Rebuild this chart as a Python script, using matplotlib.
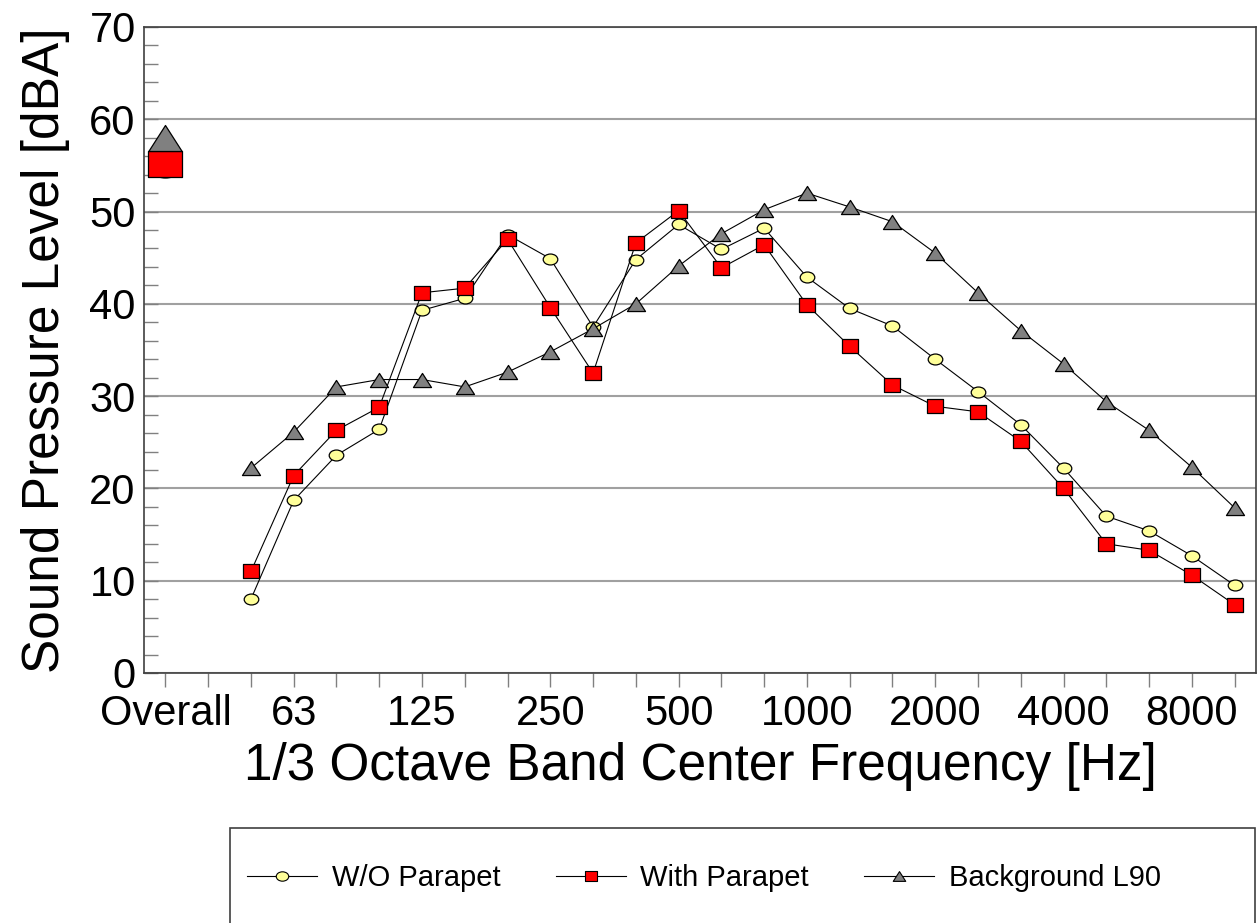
import matplotlib
matplotlib.use("Agg")
import matplotlib.pyplot as plt
import matplotlib.transforms as mtransforms
from matplotlib.path import Path
from matplotlib.lines import Line2D
from matplotlib.patches import Rectangle
from matplotlib.ticker import MultipleLocator

plt.rcParams['font.family'] = ['Liberation Sans', 'DejaVu Sans']

# 1/3 octave bands (Hz); "Overall" sits at position 0, bands start at position 2
bands = [50, 63, 80, 100, 125, 160, 200, 250, 315, 400, 500, 630, 800,
         1000, 1250, 1600, 2000, 2500, 3150, 4000, 5000, 6300, 8000, 10000]
tick_labels = ['Overall', '', '', '63', '', '', '125', '', '', '250', '', '',
               '500', '', '', '1000', '', '', '2000', '', '', '4000', '', '',
               '8000', '']

wo_parapet = [8.0, 18.7, 23.6, 26.4, 39.3, 40.6, 47.5, 44.9, 37.5, 44.8, 48.6, 45.9,
              48.2, 42.9, 39.5, 37.6, 34.0, 30.5, 26.9, 22.2, 17.0, 15.4, 12.7, 9.5]
with_parapet = [11.0, 21.4, 26.3, 28.8, 41.2, 41.7, 47.0, 39.6, 32.5, 46.6, 50.1, 43.9,
                46.4, 39.9, 35.4, 31.2, 28.9, 28.3, 25.1, 20.0, 14.0, 13.3, 10.6, 7.4]
background = [22.2, 26.1, 31.0, 31.8, 31.8, 31.0, 32.6, 34.8, 37.3, 40.0, 44.1, 47.6,
              50.2, 52.0, 50.5, 48.9, 45.5, 41.2, 37.1, 33.5, 29.4, 26.3, 22.3, 17.9]

overall_wo = 55.0
overall_with = 55.2
overall_bg = 58.0

# marker shapes (slightly wider than tall, like the original)
ellipse = Path.unit_circle().transformed(mtransforms.Affine2D().scale(1.0, 0.75))
rect = Path([(-1, -0.85), (1, -0.85), (1, 0.85), (-1, 0.85), (-1, -0.85)], closed=True)
rect_big = Path([(-1, -0.8), (1, -0.8), (1, 0.8), (-1, 0.8), (-1, -0.8)], closed=True)
tri = Path([(0, 0.78), (-1, -0.78), (1, -0.78), (0, 0.78)], closed=True)

x_bands = list(range(2, 2 + len(bands)))

fig = plt.figure(figsize=(12.57, 9.23), dpi=100)
ax = fig.add_axes([144 / 1257, 1 - 673 / 923, (1256 - 144) / 1257, (673 - 27) / 923])

series = [("W/O Parapet", wo_parapet, overall_wo, ellipse, ellipse, '#ffff99', 10.5),
          ("With Parapet", with_parapet, overall_with, rect, rect_big, '#ff0000', 11.5),
          ("Background L90", background, overall_bg, tri, tri, '#808080', 13)]

handles = []
for label, vals, ov, mk, mk_big, col, ms in series:
    ax.plot(x_bands, vals, '-', color='black', lw=0.8, marker=mk, ms=ms,
            mfc=col, mec='black', mew=0.9, zorder=3)
    ax.plot([0], [ov], linestyle='none', marker=mk_big, ms=24,
            mfc=col, mec='black', mew=0.9, zorder=3)
    handles.append(Line2D([], [], color='black', lw=0.8, marker=mk, ms=9,
                          mfc=col, mec='black', mew=0.8, label=label))

ax.set_xlim(-0.5, 25.5)
ax.set_ylim(0, 70)
ax.set_xticks(range(26))
ax.set_xticklabels(tick_labels)
ax.yaxis.set_major_locator(MultipleLocator(10))
ax.yaxis.set_minor_locator(MultipleLocator(2))
ax.grid(axis='y', which='major', color='#a0a0a0', lw=1.5, zorder=0)

ax.tick_params(axis='x', direction='out', length=10, width=1, color='#808080',
               labelsize=30, pad=5)
ax.tick_params(axis='y', which='both', direction='in', length=10, width=1,
               color='#808080', labelsize=30, pad=6)
for s in ax.spines.values():
    s.set_color('#404040')
    s.set_linewidth(1.2)

ax.set_xlabel('1/3 Octave Band Center Frequency [Hz]', fontsize=37, labelpad=6)
ax.set_ylabel('Sound Pressure Level [dBA]', fontsize=37, labelpad=14)

# legend box (runs off the bottom edge in the original)
fig.patches.append(Rectangle((230 / 1257, -0.05), (1255 - 230) / 1257, 0.05 + (923 - 828) / 923,
                             transform=fig.transFigure, fill=False,
                             edgecolor='#404040', lw=1.2))
fig.legend(handles=handles, loc='center left', bbox_to_anchor=(247 / 1257, 45 / 923),
           ncol=3, frameon=False, fontsize=21, borderpad=0, borderaxespad=0,
           handlelength=2.4, handletextpad=0.5, columnspacing=1.9)

fig.savefig('out.png', dpi=100)
